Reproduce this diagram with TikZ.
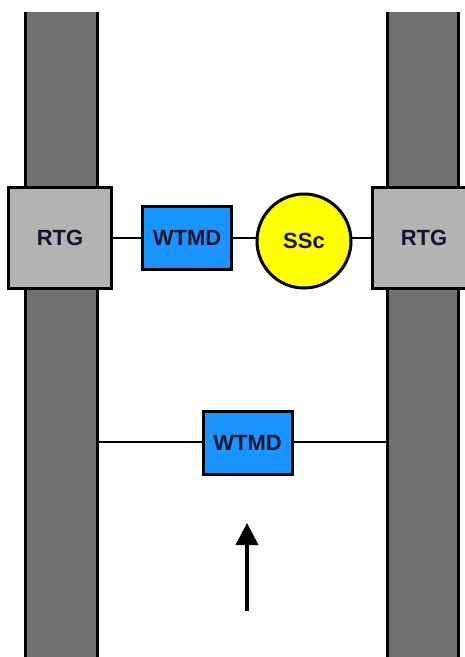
\documentclass[tikz,border=0pt]{standalone}
\usepackage{fontspec}
\setmainfont{Liberation Sans}
\usetikzlibrary{arrows.meta}
\definecolor{pillargray}{HTML}{707070}
\definecolor{rtggray}{HTML}{B3B3B3}
\definecolor{wtmdblue}{HTML}{1A95FF}
\definecolor{sscyellow}{HTML}{FFFF00}
\definecolor{txtdark}{HTML}{14142A}
\tikzset{
  lbl/.style={font=\fontsize{22}{24}\selectfont\bfseries, text=txtdark, inner sep=0pt, outer sep=0pt},
  rtgbox/.style={lbl, draw=black, line width=3pt, fill=rtggray, minimum width=103pt, minimum height=101pt},
  wtmdbox/.style={lbl, draw=black, line width=3pt, fill=wtmdblue, minimum width=89pt, minimum height=63pt},
  sscnode/.style={lbl, circle, draw=black, line width=3pt, fill=sscyellow, minimum size=94pt},
  link/.style={draw=black, line width=2.5pt},
  pillar/.style={fill=pillargray},
  pillaredge/.style={draw=black, line width=3pt}
}
\begin{document}
\begin{tikzpicture}[x=1pt,y=-1pt]
\useasboundingbox (0,0) rectangle (464,657);
% pillars
\fill[pillar] (24,12) rectangle (98,660);
\fill[pillar] (386,12) rectangle (459,660);
\draw[pillaredge] (25,12) -- (25,660) (97,12) -- (97,660);
\draw[pillaredge] (387,12) -- (387,660) (458,12) -- (458,660);
% top row
\node[rtgbox] (rtgL) at (60,238) {RTG};
\node[rtgbox] (rtgR) at (424,238) {RTG};
\node[wtmdbox] (wtmdA) at (187,238) {WTMD};
\node[sscnode] (ssc) at (304,241) {SSc};
\draw[link] (rtgL.east) -- (wtmdA.west);
\draw[link] (wtmdA.east) -- (wtmdA.east -| ssc.west);
\draw[link] (rtgR.west |- 0,238) -- (ssc.east |- 0,238);
% lower row
\node[wtmdbox] (wtmdB) at (247.5,443) {WTMD};
\coordinate (leftP) at (98,442);
\coordinate (rightP) at (386,442);
\draw[link] (leftP) -- (wtmdB.west |- leftP);
\draw[link] (wtmdB.east |- rightP) -- (rightP);
% arrow
\coordinate (arrS) at (247,611);
\coordinate (arrE) at (247,523);
\draw[line width=4pt, -{Triangle[width=22pt,length=22pt]}] (arrS) -- (arrE);
\end{tikzpicture}
\end{document}
